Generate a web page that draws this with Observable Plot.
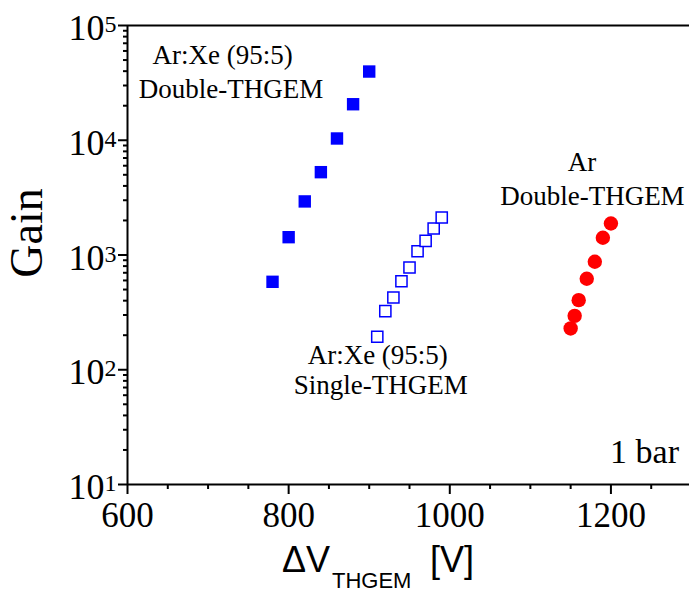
<!DOCTYPE html>
<html>
<head>
<meta charset="utf-8">
<script src="https://cdn.jsdelivr.net/npm/d3@7"></script>
<script src="https://cdn.jsdelivr.net/npm/@observablehq/plot@0.6"></script>
<style>
  body { margin: 0; background: #fff; }
</style>
</head>
<body>
<div id="chart"></div>
<script>
// Gas gain of THGEM detectors versus the voltage across each THGEM.
const xeDoubleVoltage = [780, 800, 820, 840, 860, 880, 900];
const xeDoubleGain = [584, 1430, 2930, 5270, 10360, 20600, 39700];

const xeSingleVoltage = [910, 920, 930, 940, 950, 960, 970, 980, 990];
const xeSingleGain = [194, 324, 426, 591, 778, 1079, 1329, 1702, 2122];

const arDoubleVoltage = [1150, 1155, 1160, 1170, 1180, 1190, 1200];
const arDoubleGain = [229, 295, 404, 621, 873, 1413, 1882];

const xTickValues = [600, 800, 1000, 1200];
const yTickValues = [1e1, 1e2, 1e3, 1e4, 1e5];

const xeDoubleLabel = ["Ar:Xe (95:5)", "Double-THGEM"];
const xeSingleLabel = ["Ar:Xe (95:5)", "Single-THGEM"];
const arDoubleLabel = ["Ar", "Double-THGEM"];
const pressureLabel = "1 bar";

const toPoints = (xs, ys) => xs.map((v, i) => ({voltage: v, gain: ys[i]}));

// minor ticks: every 50 V, and 2..9 within each decade of gain
const xMinor = d3.range(600, 1301, 50).filter(v => !xTickValues.includes(v));
const yMinor = yTickValues.slice(0, -1).flatMap(p => d3.range(2, 10).map(m => m * p));

const serif = "'Liberation Serif', 'Times New Roman', serif";
const sans = "'Liberation Sans', Arial, sans-serif";
const blue = "#0000ff";
const red = "#ff0000";
const noteSize = 27;

const chart = Plot.plot({
  width: 689,
  height: 596,
  marginLeft: 127,
  marginRight: -2,
  marginTop: 25,
  marginBottom: 112,
  style: {fontFamily: serif, background: "#fff", color: "#000", overflow: "visible"},
  x: {domain: [600, 1300], label: null},
  y: {type: "log", domain: [10, 1e5], label: null},
  marks: [
    Plot.axisX({ticks: xMinor, tickSize: 5, strokeWidth: 2, tickFormat: () => "", label: null}),
    Plot.axisX({ticks: xTickValues, tickSize: 10, tickPadding: 8, strokeWidth: 2,
                fontSize: 35, tickFormat: d => String(d), label: null}),
    Plot.axisY({ticks: yMinor, tickSize: 4, strokeWidth: 2, tickFormat: () => "", label: null}),
    Plot.axisY({ticks: yTickValues, tickSize: 9, strokeWidth: 2, tickFormat: () => "", label: null}),
    Plot.axisY({ticks: yTickValues, tickSize: 0, tickPadding: 11, dy: 3, fontSize: 36,
                tickFormat: d => String(Math.round(Math.log10(d))), label: null}),
    Plot.ruleX([600], {strokeWidth: 2}),
    Plot.ruleY([10, 1e5], {strokeWidth: 2}),

    Plot.dot(toPoints(xeDoubleVoltage, xeDoubleGain),
      {x: "voltage", y: "gain", symbol: "square", r: 7, fill: blue}),
    Plot.dot(toPoints(xeSingleVoltage, xeSingleGain),
      {x: "voltage", y: "gain", symbol: "square", r: 6.3, fill: "#fff", stroke: blue, strokeWidth: 1.5}),
    Plot.dot(toPoints(arDoubleVoltage, arDoubleGain),
      {x: "voltage", y: "gain", symbol: "circle", r: 7.2, fill: red}),

    Plot.text([xeDoubleLabel[0]], {x: 631, y: 55100, textAnchor: "start", fontSize: noteSize}),
    Plot.text([xeDoubleLabel[1]], {x: 614, y: 27850, textAnchor: "start", fontSize: noteSize}),
    Plot.text([arDoubleLabel[0]], {x: 1164, y: 6440, fontSize: noteSize}),
    Plot.text([arDoubleLabel[1]], {x: 1177, y: 3255, fontSize: noteSize}),
    Plot.text([xeSingleLabel[0]], {x: 910.6, y: 134, fontSize: noteSize}),
    Plot.text([xeSingleLabel[1]], {x: 914.3, y: 73.3, fontSize: noteSize}),
    Plot.text([pressureLabel], {x: 1284.5, y: 19, textAnchor: "end", fontSize: 34})
  ]
});

const svg = d3.select(chart);

// powers of ten: "10" with a raised exponent
svg.selectAll('g[aria-label="y-axis tick label"] text').each(function () {
  const k = this.textContent;
  if (!k) return;
  const t = d3.select(this);
  t.text("10");
  t.append("tspan").attr("dy", -8).attr("font-size", 24).text(k);
});

// axis titles
svg.append("text")
  .attr("transform", "translate(42,233) rotate(-90)")
  .attr("text-anchor", "middle")
  .attr("font-family", serif)
  .attr("font-size", 46)
  .attr("fill", "#000")
  .text("Gain");

const xTitle = svg.append("text")
  .attr("text-anchor", "start")
  .attr("font-family", sans)
  .attr("fill", "#000");
xTitle.append("tspan").attr("x", 282).attr("y", 572).attr("font-size", 36).text("ΔV");
xTitle.append("tspan").attr("x", 332).attr("y", 588).attr("font-size", 22).text("THGEM");
xTitle.append("tspan").attr("x", 430).attr("y", 572).attr("font-size", 36).text("[V]");

document.getElementById("chart").appendChild(chart);
</script>
</body>
</html>
